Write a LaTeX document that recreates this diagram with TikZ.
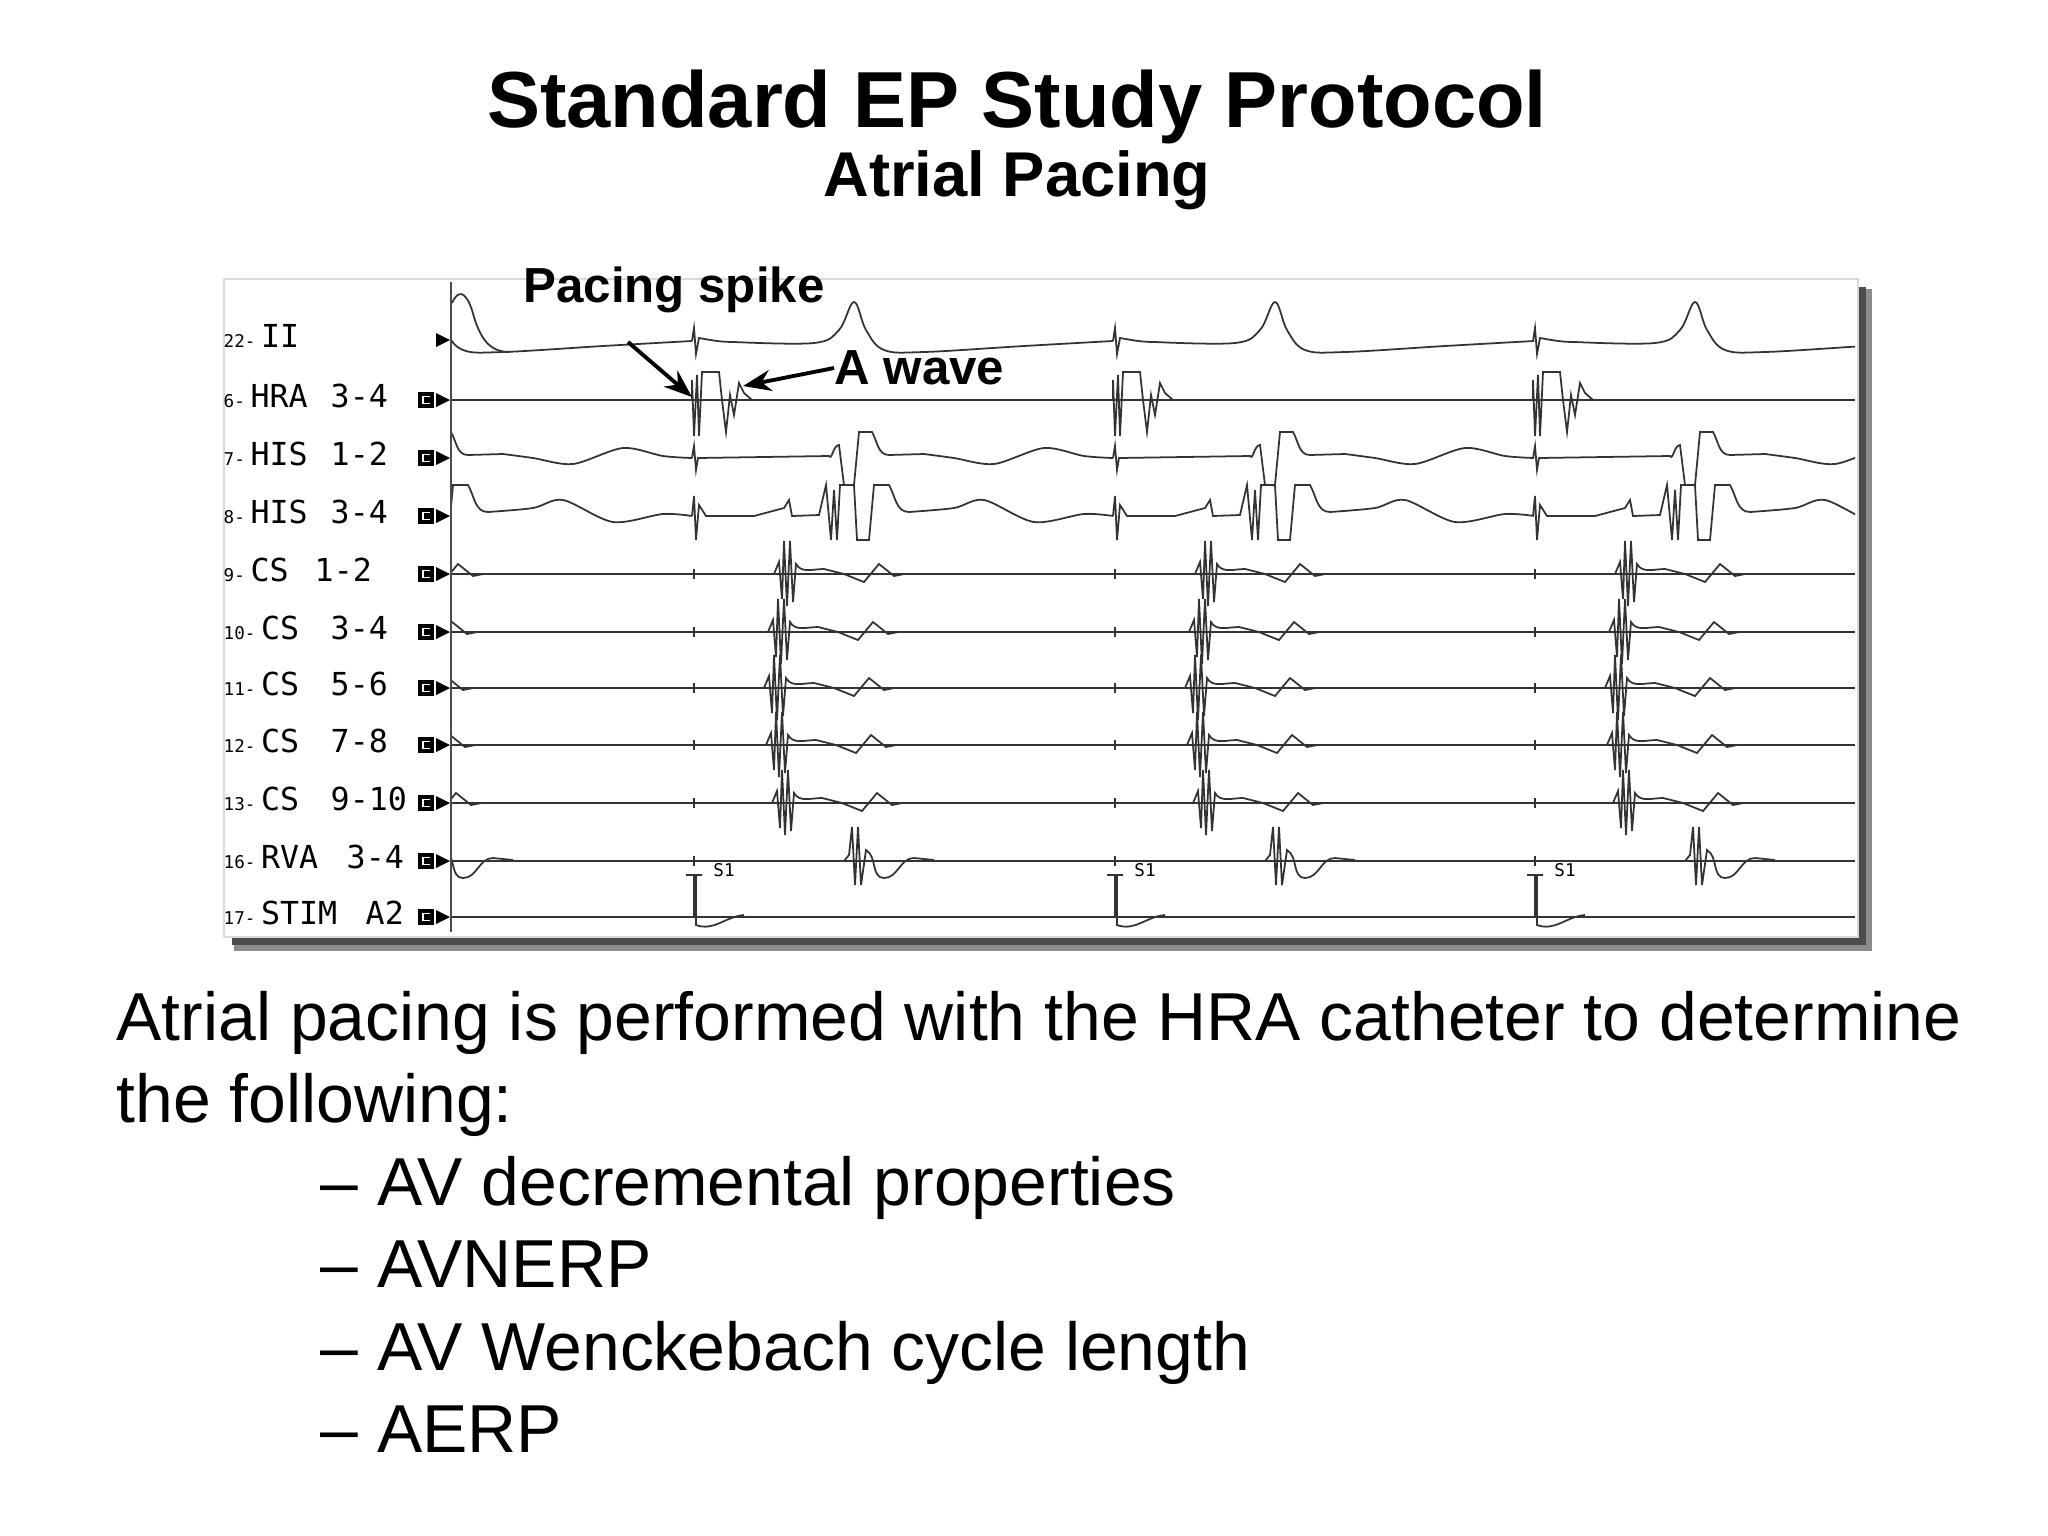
\documentclass[tikz,border=0pt]{standalone}
\usepackage{fontspec}
\setmainfont{Liberation Sans}
\newfontfamily\monof{DejaVu Sans Mono}
\usetikzlibrary{arrows.meta}
\begin{document}
\begin{tikzpicture}[x=0.01cm,y=-0.01cm,
  trace/.style={line width=0.5pt,black!80},
  lab/.style={anchor=base west,font=\monof\fontsize{9}{9}\selectfont,inner sep=0},
  ann/.style={font=\bfseries\fontsize{14}{16}\selectfont,inner sep=0},
  body/.style={anchor=base west,font=\fontsize{19.3}{22}\selectfont,inner sep=0}]
\useasboundingbox (0,0) rectangle (2048,1536);
% title
\node[font=\bfseries\fontsize{22.6}{26}\selectfont] (t1) at (1017,107) {Standard EP Study Protocol};
\node[font=\bfseries\fontsize{18}{20}\selectfont] (t2) at (1017,180) {Atrial Pacing};
% panel with shadow
\fill[black!45] (234,289) rectangle (1872,951);
\fill[black!70] (232,287) rectangle (1866,945);
\fill[white] (224,279) rectangle (1858,937);
\draw[black!15] (224,279) rectangle (1858,937);
\draw[black!70,line width=0.6pt] (451,282) -- (451,932);
% labels
\foreach \y/\n/\a/\b/\bx/\c in {340/22-/II/ /330/0,400/6-/HRA/3-4/330/1,458/7-/HIS/1-2/330/1,516/8-/HIS/3-4/330/1,574/9-/CS/1-2/314/1,632/10-/CS/3-4/330/1,688/11-/CS/5-6/330/1,745/12-/CS/7-8/330/1,803/13-/CS/9-10/330/1,861/16-/RVA/3-4/346/1,917/17-/STIM/A2/365/1}{
  \node[lab,font=\monof\fontsize{5}{6}\selectfont] (n\y) at (223,\y+7) {\n};
  \node[lab] (a\y) at ([xshift=1.2pt]n\y.base east) {\a};
  \node[lab] (b\y) at (\bx,\y+7) {\b};
  \fill[black] (436,\y-7) -- (450,\y) -- (436,\y+7) -- cycle;
  \ifnum\c=1 \draw[black,line width=1.2pt] (420,\y-6) rectangle (432,\y+6); \fill (424,\y-3) rectangle (432,\y+3);\fi
}
\begin{scope}
\clip (452,282) rectangle (1855,935);
% baselines
\foreach \y in {400,574,632,688,745,803,861,917}{\draw[trace] (452,\y) -- (1855,\y);}
\foreach \s in {273,694,1115,1535}{
 % II
 \draw[trace] (\s-2,341) -- (\s,328) -- (\s+2,354) -- (\s+5,338) to[out=-10,in=180] (\s+40,342);
 \draw[trace] plot[smooth,tension=0.6] coordinates {(\s+40,342) (\s+120,343) (\s+145,330) (\s+160,302) (\s+172,330) (\s+190,350) (\s+230,352) (\s+330,346) (\s+419,341)};
 % HRA
 \draw[trace] (\s-2,400) -- (\s-2,380) -- (\s,436) -- (\s+3,375) -- (\s+5,436) -- (\s+8,372) -- (\s+25,372) -- (\s+28,400) -- (\s+32,432) -- (\s+36,395) -- (\s+40,415) -- (\s+45,383) -- (\s+50,393) -- (\s+58,400);
 % HIS 1-2
 \draw[trace] (\s-2,458) -- (\s,446) -- (\s+2,470) -- (\s+4,458) -- (\s+135,456) to[out=-60,in=180] (\s+145,445) -- (\s+150,485) -- (\s+160,485) -- (\s+165,432) -- (\s+178,432) to[out=-60,in=180] (\s+195,455) -- (\s+230,454);
 \draw[trace] plot[smooth] coordinates {(\s+230,454) (\s+260,458) (\s+300,464) (\s+350,448) (\s+390,456) (\s+419,458)};
 % HIS 3-4
 \draw[trace] (\s-2,516) -- (\s,496) -- (\s+2,540) -- (\s+5,505) -- (\s+12,516) -- (\s+60,516) -- (\s+90,508) -- (\s+95,500) -- (\s+98,516) -- (\s+125,515) -- (\s+132,485) -- (\s+137,540) -- (\s+140,490) -- (\s+143,540) -- (\s+146,485) -- (\s+160,485) -- (\s+163,540) -- (\s+175,540) -- (\s+180,485) -- (\s+195,485) to[out=-60,in=180] (\s+215,512);
 \draw[trace] plot[smooth] coordinates {(\s+215,512) (\s+260,508) (\s+290,500) (\s+340,522) (\s+390,514) (\s+419,516)};
 % CS channels
 \foreach \y/\d in {574/90,632/84,688/80,745/82,803/88}{
   \draw[trace] (\s+\d-10,\y) -- (\s+\d-5,\y-12) -- (\s+\d-2,\y+25) -- (\s+\d,\y-33) -- (\s+\d+3,\y+32) -- (\s+\d+6,\y-33) -- (\s+\d+9,\y+28) -- (\s+\d+12,\y-10) to[out=-60,in=180] (\s+\d+40,\y-5) -- (\s+\d+60,\y) -- (\s+\d+80,\y+8) -- (\s+\d+95,\y-10) -- (\s+\d+110,\y+2) -- (\s+\d+120,\y);
   \draw[trace] (\s,\y-5) -- (\s,\y+5);
 }
 % RVA
 \draw[trace] (\s+150,861) -- (\s+155,855) -- (\s+158,827) -- (\s+161,885) -- (\s+164,827) -- (\s+167,885) -- (\s+172,850) to[out=-30,in=180] (\s+190,878) to[out=0,in=180] (\s+220,858) -- (\s+240,860);
 \draw[trace] (\s,856) -- (\s,866);
 % STIM
 \draw[trace] (\s,917) -- (\s,875) (\s-8,875) -- (\s+8,875) (\s+2,875) -- (\s+2,925) to[out=-20,in=185] (\s+50,915);
 \node[font=\monof\fontsize{5}{6}\selectfont,inner sep=0] (s1\s) at (\s+30,870) {S1};
}
\draw[trace] (452,303) .. controls (458,290) and (465,290) .. (472,310) .. controls (480,340) and (490,352) .. (510,352);
\end{scope}
% annotations
\node[ann] (ps) at (674,290) {Pacing spike};
\node[ann,anchor=west] (aw) at (834,368) {A wave};
\draw[-{Stealth[length=8pt]},line width=1.1pt] (628,342) -- (692,397);
\draw[-{Stealth[length=8pt]},line width=1.1pt] (aw.west) -- (743,386);
% body
\node[body] (l1) at (116,1040) {Atrial pacing is performed with the HRA catheter to determine};
\node[body] (l2) at (116,1122) {the following:};
\node[body] (i1) at (320,1205) {– AV decremental properties};
\node[body] (i2) at (320,1287) {– AVNERP};
\node[body] (i3) at (320,1370) {– AV Wenckebach cycle length};
\node[body] (i4) at (320,1452) {– AERP};
\end{tikzpicture}
\end{document}
